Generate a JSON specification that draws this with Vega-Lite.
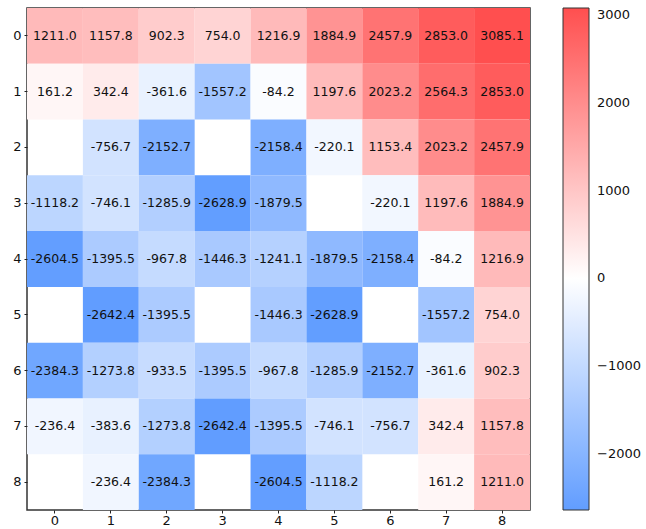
{
  "$schema": "https://vega.github.io/schema/vega-lite/v6.json",
  "autosize": "none",
  "width": 503,
  "height": 502,
  "padding": {"left": 27, "top": 8, "right": 116, "bottom": 19},
  "background": "white",
  "config": {
    "view": {"stroke": "#333333", "strokeWidth": 1.5},
    "font": "DejaVu Sans",
    "locale": {"number": {"decimal": ".", "thousands": ",", "grouping": [3], "currency": ["$", ""], "minus": "-"}},
    "axis": {"domain": false, "ticks": true, "tickColor": "#222222", "tickSize": 3, "tickWidth": 1, "labelFontSize": 13, "labelColor": "#111111", "labelFont": "DejaVu Sans", "grid": false, "title": null, "labelAngle": 0, "labelPadding": 2}
  },
  "data": {"values": [
    {"r":0,"c":0,"v":1211.0},{"r":0,"c":1,"v":1157.8},{"r":0,"c":2,"v":902.3},{"r":0,"c":3,"v":754.0},{"r":0,"c":4,"v":1216.9},{"r":0,"c":5,"v":1884.9},{"r":0,"c":6,"v":2457.9},{"r":0,"c":7,"v":2853.0},{"r":0,"c":8,"v":3085.1},
    {"r":1,"c":0,"v":161.2},{"r":1,"c":1,"v":342.4},{"r":1,"c":2,"v":-361.6},{"r":1,"c":3,"v":-1557.2},{"r":1,"c":4,"v":-84.2},{"r":1,"c":5,"v":1197.6},{"r":1,"c":6,"v":2023.2},{"r":1,"c":7,"v":2564.3},{"r":1,"c":8,"v":2853.0},
    {"r":2,"c":1,"v":-756.7},{"r":2,"c":2,"v":-2152.7},{"r":2,"c":4,"v":-2158.4},{"r":2,"c":5,"v":-220.1},{"r":2,"c":6,"v":1153.4},{"r":2,"c":7,"v":2023.2},{"r":2,"c":8,"v":2457.9},
    {"r":3,"c":0,"v":-1118.2},{"r":3,"c":1,"v":-746.1},{"r":3,"c":2,"v":-1285.9},{"r":3,"c":3,"v":-2628.9},{"r":3,"c":4,"v":-1879.5},{"r":3,"c":6,"v":-220.1},{"r":3,"c":7,"v":1197.6},{"r":3,"c":8,"v":1884.9},
    {"r":4,"c":0,"v":-2604.5},{"r":4,"c":1,"v":-1395.5},{"r":4,"c":2,"v":-967.8},{"r":4,"c":3,"v":-1446.3},{"r":4,"c":4,"v":-1241.1},{"r":4,"c":5,"v":-1879.5},{"r":4,"c":6,"v":-2158.4},{"r":4,"c":7,"v":-84.2},{"r":4,"c":8,"v":1216.9},
    {"r":5,"c":1,"v":-2642.4},{"r":5,"c":2,"v":-1395.5},{"r":5,"c":4,"v":-1446.3},{"r":5,"c":5,"v":-2628.9},{"r":5,"c":7,"v":-1557.2},{"r":5,"c":8,"v":754.0},
    {"r":6,"c":0,"v":-2384.3},{"r":6,"c":1,"v":-1273.8},{"r":6,"c":2,"v":-933.5},{"r":6,"c":3,"v":-1395.5},{"r":6,"c":4,"v":-967.8},{"r":6,"c":5,"v":-1285.9},{"r":6,"c":6,"v":-2152.7},{"r":6,"c":7,"v":-361.6},{"r":6,"c":8,"v":902.3},
    {"r":7,"c":0,"v":-236.4},{"r":7,"c":1,"v":-383.6},{"r":7,"c":2,"v":-1273.8},{"r":7,"c":3,"v":-2642.4},{"r":7,"c":4,"v":-1395.5},{"r":7,"c":5,"v":-746.1},{"r":7,"c":6,"v":-756.7},{"r":7,"c":7,"v":342.4},{"r":7,"c":8,"v":1157.8},
    {"r":8,"c":1,"v":-236.4},{"r":8,"c":2,"v":-2384.3},{"r":8,"c":4,"v":-2604.5},{"r":8,"c":5,"v":-1118.2},{"r":8,"c":7,"v":161.2},{"r":8,"c":8,"v":1211.0}
  ]},
  "encoding": {
    "x": {"field": "c", "type": "ordinal", "scale": {"domain": [0,1,2,3,4,5,6,7,8], "paddingInner": 0, "paddingOuter": 0}, "axis": {"orient": "bottom", "labelPadding": 1}},
    "y": {"field": "r", "type": "ordinal", "scale": {"domain": [0,1,2,3,4,5,6,7,8], "paddingInner": 0, "paddingOuter": 0}, "axis": {"orient": "left", "labelPadding": 3}}
  },
  "layer": [
    {
      "mark": {"type": "rect", "strokeWidth": 0},
      "encoding": {
        "color": {
          "field": "v", "type": "quantitative",
          "scale": {"type": "linear", "domain": [-2642.4, 0, 3085.1], "range": ["#619dff", "#ffffff", "#ff4f4f"], "interpolate": "rgb"},
          "legend": {
            "orient": "none", "legendX": 536, "legendY": 0, "direction": "vertical",
            "gradientLength": 502, "gradientThickness": 26,
            "gradientStrokeColor": "#333333", "gradientStrokeWidth": 1,
            "values": [-2000, -1000, 0, 1000, 2000, 3000],
            "labelExpr": "replace(format(datum.value, 'd'), '-', '\u2212')",
            "labelFontSize": 13, "labelColor": "#111111", "labelFont": "DejaVu Sans", "labelOffset": 8,
            "title": null
          }
        }
      }
    },
    {
      "mark": {"type": "text", "fontSize": 12.5, "color": "#111111", "font": "DejaVu Sans"},
      "encoding": {"text": {"field": "v", "type": "quantitative", "format": ".1f"}}
    }
  ]
}
